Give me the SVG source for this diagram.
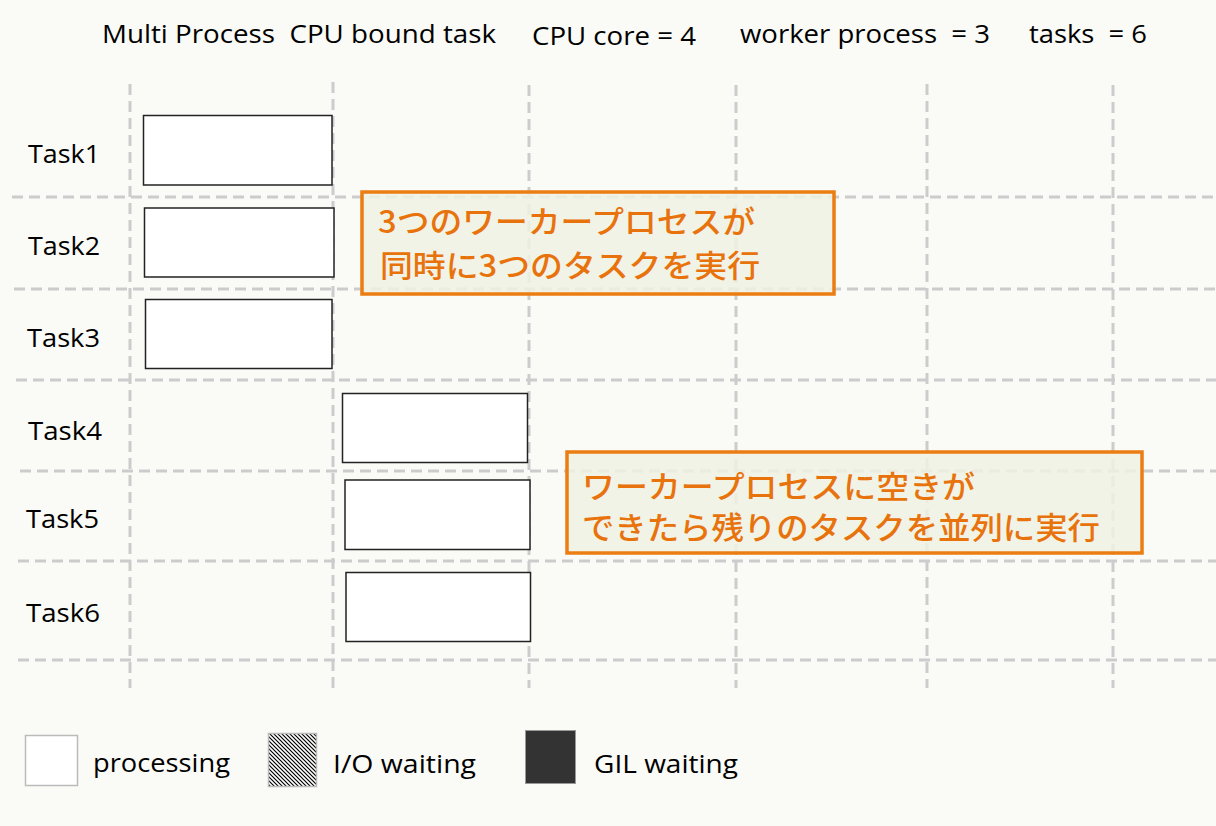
<svg xmlns="http://www.w3.org/2000/svg" width="1216" height="826" viewBox="0 0 1216 826">
<defs>
<style>
.t{font-family:"Open Sans","Noto Sans","DejaVu Sans",sans-serif;font-size:25px;fill:#000;white-space:pre}
.g{stroke:#cccccc;stroke-width:3;stroke-dasharray:11 6;fill:none}
.task{fill:#ffffff;stroke:#222;stroke-width:1.5}
.call{fill:#eef1e3;fill-opacity:0.85;stroke:#ec7d12;stroke-width:3.5}
.ct{font-family:"Noto Sans CJK JP","Noto Sans",sans-serif;font-size:31px;font-weight:500;fill:#e8720c}
</style>
<pattern id="hatch" width="4" height="4" patternUnits="userSpaceOnUse">
<rect width="4" height="4" fill="#fff"/>
<path d="M-1,-1 L5,5 M-1,3 L1,5 M3,-1 L5,1" stroke="#000" stroke-width="1.2"/>
</pattern>
</defs>
<rect width="1216" height="826" fill="#fafaf6"/>
<g id="header">
<text class="t" xml:space="preserve" x="102" y="43" textLength="394" lengthAdjust="spacingAndGlyphs">Multi Process  CPU bound task</text>
<text class="t" x="532" y="45" textLength="164" lengthAdjust="spacingAndGlyphs">CPU core = 4</text>
<text class="t" xml:space="preserve" x="740" y="43" textLength="250" lengthAdjust="spacingAndGlyphs">worker process  = 3</text>
<text class="t" xml:space="preserve" x="1029" y="43" textLength="118" lengthAdjust="spacingAndGlyphs">tasks  = 6</text>
</g>
<g id="grid">
<line class="g" x1="130" y1="84" x2="130" y2="688"/>
<line class="g" x1="333" y1="82" x2="333" y2="688"/>
<line class="g" x1="529" y1="85" x2="529" y2="688"/>
<line class="g" x1="736" y1="85" x2="736" y2="688"/>
<line class="g" x1="927" y1="84" x2="927" y2="688"/>
<line class="g" x1="1113" y1="85" x2="1113" y2="688"/>
<line class="g" x1="12" y1="197" x2="1216" y2="197"/>
<line class="g" x1="14" y1="289" x2="1216" y2="289"/>
<line class="g" x1="16" y1="380" x2="1216" y2="380"/>
<line class="g" x1="20" y1="471" x2="1216" y2="471"/>
<line class="g" x1="18" y1="561" x2="1216" y2="561"/>
<line class="g" x1="18" y1="660" x2="1216" y2="660"/>
</g>
<g id="labels">
<text class="t" x="28" y="163" textLength="72" lengthAdjust="spacingAndGlyphs">Task1</text>
<text class="t" x="28" y="255" textLength="72" lengthAdjust="spacingAndGlyphs">Task2</text>
<text class="t" x="27" y="347" textLength="73" lengthAdjust="spacingAndGlyphs">Task3</text>
<text class="t" x="28" y="440" textLength="74" lengthAdjust="spacingAndGlyphs">Task4</text>
<text class="t" x="26" y="528" textLength="73" lengthAdjust="spacingAndGlyphs">Task5</text>
<text class="t" x="26" y="622" textLength="74" lengthAdjust="spacingAndGlyphs">Task6</text>
</g>
<g id="task1"><rect class="task" x="143.5" y="115.5" width="188.5" height="69.5"/></g>
<g id="task2"><rect class="task" x="144.5" y="208" width="189.5" height="69"/></g>
<g id="task3"><rect class="task" x="145.5" y="299.5" width="186.5" height="69"/></g>
<g id="task4"><rect class="task" x="342.5" y="393.5" width="185" height="69"/></g>
<g id="task5"><rect class="task" x="345" y="480" width="185" height="69.5"/></g>
<g id="task6"><rect class="task" x="346" y="572.5" width="184.5" height="69"/></g>
<g id="callout1">
<rect class="call" x="362" y="192" width="472" height="102"/>
<text class="ct" x="378" y="233" textLength="377" lengthAdjust="spacingAndGlyphs">3つのワーカープロセスが</text>
<text class="ct" x="380" y="277" textLength="380" lengthAdjust="spacingAndGlyphs">同時に3つのタスクを実行</text>
</g>
<g id="callout2">
<rect class="call" x="567" y="452" width="575" height="101"/>
<text class="ct" x="582" y="498" textLength="393" lengthAdjust="spacingAndGlyphs">ワーカープロセスに空きが</text>
<text class="ct" x="582" y="539" textLength="518" lengthAdjust="spacingAndGlyphs">できたら残りのタスクを並列に実行</text>
</g>
<g id="legend">
<rect x="25.5" y="735.5" width="52" height="50" fill="#fff" stroke="#bbb" stroke-width="1.5"/>
<text class="t" x="93" y="772" textLength="137" lengthAdjust="spacingAndGlyphs">processing</text>
<rect x="268.5" y="733.5" width="48" height="53" fill="url(#hatch)" stroke="#bbb" stroke-width="1.5"/>
<text class="t" x="333" y="773" textLength="143" lengthAdjust="spacingAndGlyphs">I/O waiting</text>
<rect x="525.5" y="730.5" width="50" height="53" fill="#333" stroke="#999" stroke-width="1"/>
<text class="t" x="594" y="773" textLength="144" lengthAdjust="spacingAndGlyphs">GIL waiting</text>
</g>
</svg>
